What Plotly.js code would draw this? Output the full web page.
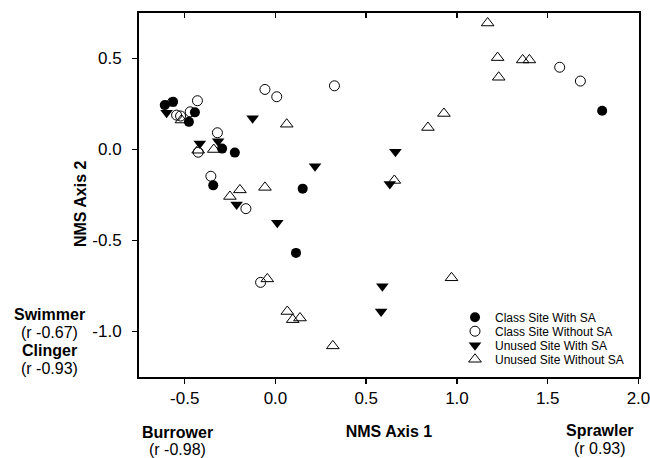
<!DOCTYPE html>
<html>
<head>
<meta charset="utf-8">
<script src="https://cdn.plot.ly/plotly-3.0.1.min.js"></script>
<style>html,body{margin:0;padding:0;background:#fff;}#chart{width:650px;height:458px;}</style>
</head>
<body>
<div id="chart"></div>
<script>
// Class Site With SA (filled circles)
const classWithX = [-0.61, -0.564, -0.477, -0.444, -0.294, -0.224, -0.343, 0.15, 0.113, 1.80];
const classWithY = [0.244, 0.262, 0.152, 0.204, 0.005, -0.017, -0.197, -0.215, -0.568, 0.213];
// Class Site Without SA (open circles)
const classWithoutX = [-0.545, -0.523, -0.47, -0.43, -0.058, 0.007, 0.325, -0.32, -0.426, -0.356, -0.163, -0.082, 1.566, 1.68];
const classWithoutY = [0.189, 0.184, 0.207, 0.268, 0.33, 0.29, 0.35, 0.092, -0.015, -0.147, -0.325, -0.73, 0.452, 0.376];
// Unused Site With SA (filled down triangles)
const unusedWithX = [-0.60, -0.126, -0.316, -0.417, 0.218, -0.214, 0.01, 0.63, 0.661, 0.589, 0.582];
const unusedWithY = [0.202, 0.172, 0.045, 0.033, -0.092, -0.302, -0.402, -0.19, -0.013, -0.752, -0.89];
// Unused Site Without SA (open up triangles)
const unusedWithoutX = [-0.582, -0.518, -0.426, -0.34, 0.062, -0.196, -0.058, -0.251, 0.655, -0.045, 0.065, 0.095, 0.135, 0.316, 0.97, 0.84, 0.928, 1.169, 1.224, 1.23, 1.362, 1.399];
const unusedWithoutY = [0.254, 0.162, -0.004, 0.0, 0.139, -0.222, -0.208, -0.258, -0.17, -0.711, -0.89, -0.935, -0.926, -1.079, -0.705, 0.121, 0.198, 0.695, 0.505, 0.397, 0.492, 0.492];

const seriesNames = ["Class Site With SA", "Class Site Without SA", "Unused Site With SA", "Unused Site Without SA"];
const xTickVals = [-0.5, 0.0, 0.5, 1.0, 1.5, 2.0];
const xTickText = ["-0.5", "0.0", "0.5", "1.0", "1.5", "2.0"];
const yTickVals = [-1.0, -0.5, 0.0, 0.5];
const yTickText = ["-1.0", "-0.5", "0.0", "0.5"];

const FONT = "Arial, 'Liberation Sans', sans-serif";
const X_RANGE = [-0.752, 2.003];
const Y_RANGE = [-1.25, 0.75];

const traces = [
  {x: classWithX, y: classWithY, name: seriesNames[0], type: "scatter", mode: "markers", legend: "legend",
   marker: {symbol: "circle", size: 10, color: "#000", line: {width: 0}}},
  {x: classWithoutX, y: classWithoutY, name: seriesNames[1], type: "scatter", mode: "markers", legend: "legend2",
   marker: {symbol: "circle-open", size: 10, color: "#000", line: {width: 1, color: "#000"}}},
  {x: unusedWithX, y: unusedWithY, name: seriesNames[2], type: "scatter", mode: "markers", legend: "legend3",
   marker: {symbol: "triangle-down", size: 11, color: "#000", line: {width: 0}}},
  {x: unusedWithoutX, y: unusedWithoutY, name: seriesNames[3], type: "scatter", mode: "markers", legend: "legend4",
   marker: {symbol: "triangle-up-open", size: 11, color: "#000", line: {width: 1, color: "#000"}}},
  // invisible trace to enable inner top ticks
  {x: [null], y: [null], xaxis: "x2", yaxis: "y", showlegend: false, hoverinfo: "skip", type: "scatter", mode: "markers"}
];

function leg(yc) {
  return {x: 0.632, xanchor: "left", y: yc, yanchor: "middle", bgcolor: "rgba(0,0,0,0)",
          font: {family: FONT, size: 12, color: "#000"}, borderwidth: 0};
}

const layout = {
  width: 650, height: 458,
  margin: {l: 139, r: 11, t: 13, b: 81, pad: 0, autoexpand: false},
  paper_bgcolor: "#fff", plot_bgcolor: "#fff",
  font: {family: FONT, size: 16, color: "#000"},
  showlegend: true,
  legend: leg(0.1643),
  legend2: leg(0.1258),
  legend3: leg(0.0872),
  legend4: leg(0.0487),
  xaxis: {range: X_RANGE, tickvals: xTickVals, ticktext: xTickText, ticks: "outside", ticklen: 5,
          tickwidth: 1.5, tickcolor: "#000", showline: true, linewidth: 2, linecolor: "#000", mirror: true,
          showgrid: false, zeroline: false, tickfont: {family: FONT, size: 17}, ticklabeloverflow: "allow",
          title: {text: "<b>NMS Axis 1</b>", font: {family: FONT, size: 16}, standoff: 18}},
  xaxis2: {overlaying: "x", matches: "x", side: "top", range: X_RANGE, tickvals: [-0.5, 0.0, 0.5, 1.0, 1.5], ticks: "inside",
           ticklen: 5, tickwidth: 1.5, tickcolor: "#000", showticklabels: false, showgrid: false, zeroline: false, showline: false},
  yaxis: {range: Y_RANGE, tickvals: yTickVals, ticktext: yTickText, ticks: "outside", ticklen: 5,
          tickwidth: 1.5, tickcolor: "#000", showline: true, linewidth: 2, linecolor: "#000", mirror: true,
          showgrid: false, zeroline: false, tickfont: {family: FONT, size: 17}, ticklabelstandoff: 7},
  annotations: [
    {text: "<b>NMS Axis 2</b>", xref: "paper", yref: "paper", x: -0.118, y: 0.475, textangle: -90,
     showarrow: false, xanchor: "center", yanchor: "middle", font: {family: FONT, size: 16}},
    {text: "<b>Burrower</b>", xref: "paper", yref: "paper", x: 0.076, y: -0.152, showarrow: false,
     xanchor: "center", yanchor: "middle", font: {family: FONT, size: 16}},
    {text: "(r -0.98)", xref: "paper", yref: "paper", x: 0.076, y: -0.2, showarrow: false,
     xanchor: "center", yanchor: "middle", font: {family: FONT, size: 16}},
    {text: "<b>Sprawler</b>", xref: "paper", yref: "paper", x: 0.921, y: -0.147, showarrow: false,
     xanchor: "center", yanchor: "middle", font: {family: FONT, size: 16}},
    {text: "(r 0.93)", xref: "paper", yref: "paper", x: 0.921, y: -0.197, showarrow: false,
     xanchor: "center", yanchor: "middle", font: {family: FONT, size: 16}},
    {text: "<b>Swimmer</b>", xref: "paper", yref: "paper", x: -0.18, y: 0.173, showarrow: false,
     xanchor: "center", yanchor: "middle", font: {family: FONT, size: 16}},
    {text: "(r -0.67)", xref: "paper", yref: "paper", x: -0.18, y: 0.123, showarrow: false,
     xanchor: "center", yanchor: "middle", font: {family: FONT, size: 16}},
    {text: "<b>Clinger</b>", xref: "paper", yref: "paper", x: -0.18, y: 0.073, showarrow: false,
     xanchor: "center", yanchor: "middle", font: {family: FONT, size: 16}},
    {text: "(r -0.93)", xref: "paper", yref: "paper", x: -0.18, y: 0.024, showarrow: false,
     xanchor: "center", yanchor: "middle", font: {family: FONT, size: 16}}
  ]
};

Plotly.newPlot("chart", traces, layout, {displayModeBar: false, staticPlot: true});
</script>
</body>
</html>
